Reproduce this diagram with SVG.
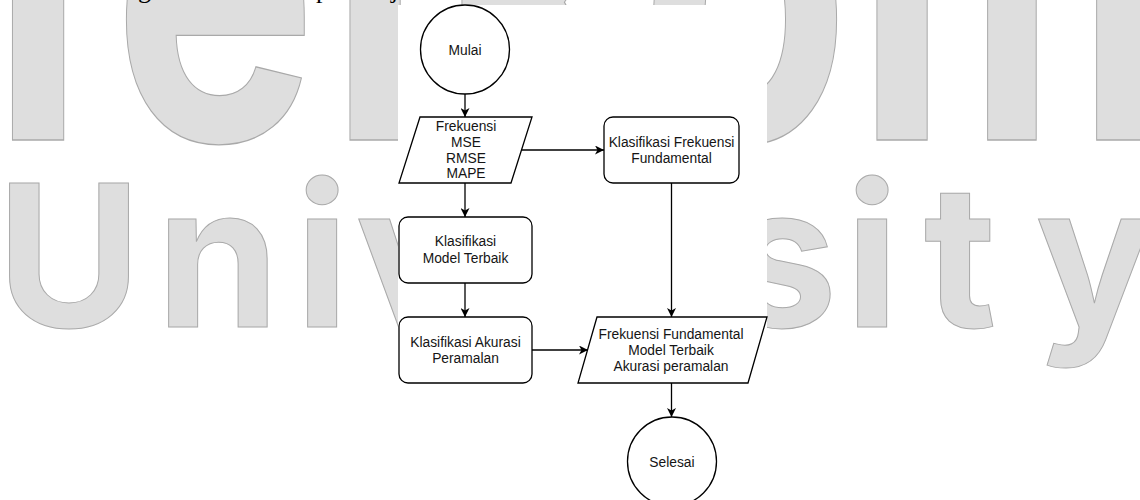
<svg xmlns="http://www.w3.org/2000/svg" width="1140" height="500" viewBox="0 0 1140 500">
<style>
.wm{font-family:Inter,"Open Sans","DejaVu Sans",sans-serif;font-weight:700;fill:#dedede;stroke:#a9a9a9;stroke-width:1;text-anchor:middle}
.top{font-family:"Liberation Serif","Times New Roman",serif;font-size:26px;fill:#000}
.shape{fill:#fff;stroke:#000;stroke-width:1.3}
.lbl{font-family:"Liberation Sans",Arial,sans-serif;font-size:13.8px;fill:#151515;text-anchor:middle;dominant-baseline:central}
.conn{fill:none;stroke:#000;stroke-width:1.3}
</style>
<defs>
<marker id="arr" markerUnits="userSpaceOnUse" markerWidth="10" markerHeight="9" refX="9" refY="4.5" orient="auto">
<path d="M0,0 L9,4.5 L0,9 L2.5,4.5 Z" fill="#000"/>
</marker>
</defs>
<rect width="1140" height="500" fill="#fff"/>
<g id="watermark">
<text class="wm" font-size="343" font-weight="800" y="140" transform="translate(0,140) scale(1,1.3) translate(0,-140)"><tspan x="38">T</tspan><tspan x="215">e</tspan><tspan x="375">l</tspan><tspan x="540">k</tspan><tspan x="745">o</tspan><tspan x="1012">m</tspan></text>
<text class="wm" font-size="198" y="327"><tspan x="69">U</tspan><tspan x="218">n</tspan><tspan x="322">i</tspan><tspan x="415">v</tspan><tspan x="530">e</tspan><tspan x="650">r</tspan><tspan x="782">s</tspan><tspan x="872">i</tspan><tspan x="960">t</tspan><tspan x="1095">y</tspan></text>
</g>
<g id="page-text">
<text class="top" x="138" y="-2">g</text>
<text class="top" x="316" y="-2">p</text>
<text class="top" x="391" y="-2">j</text>
</g>
<rect id="panel" x="398" y="5" width="369" height="495" fill="#fff"/>
<g id="connectors">
<line class="conn" x1="465" y1="94" x2="465" y2="117" marker-end="url(#arr)"/>
<line class="conn" x1="521" y1="150" x2="604" y2="150" marker-end="url(#arr)"/>
<line class="conn" x1="465" y1="183" x2="465" y2="217" marker-end="url(#arr)"/>
<line class="conn" x1="465" y1="283" x2="465" y2="317" marker-end="url(#arr)"/>
<line class="conn" x1="532" y1="350" x2="588" y2="350" marker-end="url(#arr)"/>
<line class="conn" x1="671.5" y1="183" x2="671.5" y2="317" marker-end="url(#arr)"/>
<line class="conn" x1="671.5" y1="383" x2="671.5" y2="417" marker-end="url(#arr)"/>
</g>
<g id="mulai">
<circle class="shape" cx="465" cy="49.5" r="44.5"/>
<text class="lbl" x="465" y="50">Mulai</text>
</g>
<g id="input-frekuensi">
<polygon class="shape" points="420,117 532,117 511,183 399,183"/>
<text class="lbl" x="466" y="126">Frekuensi</text>
<text class="lbl" x="466" y="142">MSE</text>
<text class="lbl" x="466" y="158">RMSE</text>
<text class="lbl" x="466" y="173">MAPE</text>
</g>
<g id="klasifikasi-frekuensi">
<rect class="shape" x="604" y="117" width="135" height="66" rx="9"/>
<text class="lbl" x="671.5" y="142">Klasifikasi Frekuensi</text>
<text class="lbl" x="671.5" y="158">Fundamental</text>
</g>
<g id="klasifikasi-model">
<rect class="shape" x="399" y="217" width="133" height="66" rx="9"/>
<text class="lbl" x="465.5" y="241">Klasifikasi</text>
<text class="lbl" x="465.5" y="258">Model Terbaik</text>
</g>
<g id="klasifikasi-akurasi">
<rect class="shape" x="399" y="317" width="133" height="66" rx="9"/>
<text class="lbl" x="465.5" y="342">Klasifikasi Akurasi</text>
<text class="lbl" x="465.5" y="358">Peramalan</text>
</g>
<g id="output">
<polygon class="shape" points="597,317 767,317 748,383 578,383"/>
<text class="lbl" x="671" y="334">Frekuensi Fundamental</text>
<text class="lbl" x="671" y="350">Model Terbaik</text>
<text class="lbl" x="671" y="366">Akurasi peramalan</text>
</g>
<g id="selesai">
<circle class="shape" cx="672" cy="461.5" r="44.5"/>
<text class="lbl" x="672" y="462">Selesai</text>
</g>
</svg>
